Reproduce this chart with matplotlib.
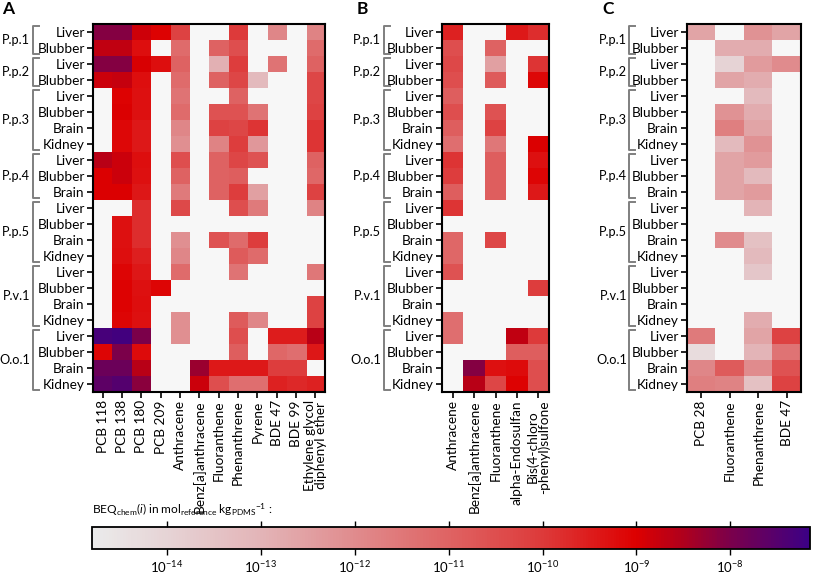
import numpy as np
import matplotlib
matplotlib.use("Agg")
import matplotlib.pyplot as plt
from matplotlib import transforms
from matplotlib.colors import LinearSegmentedColormap, LogNorm

plt.rcParams['font.family'] = ['Lato', 'DejaVu Sans']
plt.rcParams['mathtext.fontset'] = 'custom'
plt.rcParams['mathtext.rm'] = 'Lato'
plt.rcParams['mathtext.it'] = 'Lato:italic'

N = None

# rows (top -> bottom)
tissues = ['Liver', 'Blubber', 'Liver', 'Blubber', 'Liver', 'Blubber', 'Brain', 'Kidney',
           'Liver', 'Blubber', 'Brain', 'Liver', 'Blubber', 'Brain', 'Kidney',
           'Liver', 'Blubber', 'Brain', 'Kidney', 'Liver', 'Blubber', 'Brain', 'Kidney']
groups = [('P.p.1', 0, 1), ('P.p.2', 2, 3), ('P.p.3', 4, 7), ('P.p.4', 8, 10),
          ('P.p.5', 11, 14), ('P.v.1', 15, 18), ('O.o.1', 19, 22)]

# values are log10 of BEQchem(i); one list per chemical, 23 rows each (None = not detected)
chem_a = ['PCB 118', 'PCB 138', 'PCB 180', 'PCB 209', 'Anthracene', 'Benz[a]anthracene',
          'Fluoranthene', 'Phenanthrene', 'Pyrene', 'BDE 47', 'BDE 99',
          'Ethylene glycol\ndiphenyl ether']
beq_a = [
    [-8.1, -8.7, -8.1, -8.8, N, N, N, N, -8.6, -9.0, -9.0, N, N, N, N, N, N, N, N, -7.3, -9.1, -7.8, -7.6],
    [-8.1, -8.7, -8.1, -8.75, -9.05, -9.0, -9.15, -9.15, -8.8, -8.8, -9.0, N, -9.3, -9.3, -9.25, -9.1, -9.05, -9.05, -9.1, -7.25, -8.0, -7.8, -7.5],
    [-8.85, -9.25, -8.95, -9.25, -9.3, -9.3, -9.45, -9.45, -9.25, -9.3, -9.4, -9.8, -9.8, -9.8, -9.55, -9.4, -9.3, -9.25, -9.3, -8.0, -9.2, -8.6, -8.15],
    [-9.05, N, -9.25, N, N, N, N, N, N, N, N, N, N, N, N, N, -9.1, N, N, N, N, N, N],
    [-10.2, -11.2, -11.0, -11.2, -11.4, -11.2, -11.9, -12.1, -10.5, -11.0, -11.6, -10.4, N, -12.1, -11.9, -11.2, N, N, -12.1, -12.1, N, N, N],
    [N, N, N, N, N, N, N, N, N, N, N, N, N, N, N, N, N, N, N, N, N, -8.3, -8.8],
    [N, -11.0, -12.9, -11.0, N, -10.6, -10.2, -11.8, -11.0, -11.0, -11.0, N, N, -10.6, N, N, N, N, N, N, N, -9.45, -10.5],
    [-10.0, -10.5, -10.1, -10.3, -11.0, -10.6, -10.3, -10.1, -10.3, -10.9, -10.1, -10.5, N, -11.2, -10.8, -11.4, N, N, -10.8, -10.5, -10.9, -9.45, -11.3],
    [N, N, N, -13.2, N, -11.4, -9.9, -12.3, -10.6, N, -12.5, -11.6, N, -10.1, -11.2, N, N, N, -11.9, N, N, -9.45, -11.3],
    [-11.9, N, -11.4, N, N, N, N, N, N, N, N, N, N, N, N, N, N, N, N, -9.5, -11.1, -10.1, -9.6],
    [N, N, N, N, N, N, N, N, N, N, N, N, N, N, N, N, N, N, N, -9.5, -11.3, -10.1, -9.7],
    [-11.8, -11.2, -11.0, -10.3, -10.3, -10.2, -9.9, -9.9, -11.0, -11.1, -10.2, -11.8, N, N, N, -11.5, N, -10.2, -10.2, -8.6, -9.4, N, -9.6],
]

chem_b = ['Anthracene', 'Benz[a]anthracene', 'Fluoranthene', 'alpha-Endosulfan',
          'Bis(4-chloro\n-phenyl)sulfone']
beq_b = [
    [-9.6, -10.5, -10.35, -10.5, -10.9, -10.5, -10.9, -11.3, -9.9, -10.1, -10.9, -9.9, N, -11.1, -11.1, -10.6, N, N, -11.3, -11.3, N, N, N],
    [N, N, N, N, N, N, N, N, N, N, N, N, N, N, N, N, N, N, N, N, N, -8.1, -8.6],
    [N, -11.0, -12.5, -10.8, N, -10.6, -10.2, -11.5, -10.9, -10.9, -10.9, N, N, -10.3, N, N, N, N, N, N, N, -9.3, -10.3],
    [-9.45, N, N, N, N, N, N, N, N, N, N, N, N, N, N, N, N, N, N, -8.7, -10.9, -9.2, -9.05],
    [-9.8, N, -9.9, -9.15, N, N, N, -9.0, -9.3, -9.1, -9.45, N, N, N, N, N, -10.1, N, N, -10.0, -10.9, -10.5, -10.5],
]

chem_c = ['PCB 28', 'Fluoranthene', 'Phenanthrene', 'BDE 47']
beq_c = [
    [-12.6, N, N, N, N, N, N, N, N, N, N, N, N, N, N, N, N, N, N, -11.6, -14.3, -11.9, -11.7],
    [N, -12.8, -14.0, -12.6, N, -12.2, -11.7, -13.2, -12.6, -12.6, -12.6, N, N, -12.0, N, N, N, N, N, N, N, -10.8, -11.8],
    [-12.2, -12.8, -12.4, -12.8, -13.2, -12.8, -12.6, -12.2, -12.4, -13.2, -12.4, -13.0, N, -13.4, -13.2, -13.6, N, N, -12.8, -12.6, -13.0, -12.0, -13.4],
    [-12.6, N, -12.0, N, N, N, N, N, N, N, N, N, N, N, N, N, N, N, N, -10.2, -11.4, -10.6, -10.2],
]

cbar_ticks = [-14, -13, -12, -11, -10, -9, -8]
vmin, vmax = -14.8, -7.15

# colour map: light grey -> pink -> red -> crimson -> indigo
stops = [(-14.8, '#ebebeb'), (-14.0, '#e6d3d5'), (-13.0, '#e3b4b7'), (-12.0, '#e08b8d'),
         (-11.0, '#df6363'), (-10.0, '#dd3a3a'), (-9.0, '#dd0000'), (-8.5, '#b0001c'),
         (-8.0, '#7c004a'), (-7.15, '#3c0085')]
cmap = LinearSegmentedColormap.from_list(
    'beq', [((v - vmin) / (vmax - vmin), c) for v, c in stops])
cmap.set_bad('#f7f7f7')
norm = LogNorm(vmin=10 ** vmin, vmax=10 ** vmax)

W, H = 813, 575
fig = plt.figure(figsize=(W / 100, H / 100), dpi=100)


def px_axes(x0, y0, x1, y1):
    return fig.add_axes([x0 / W, 1 - y1 / H, (x1 - x0) / W, (y1 - y0) / H])


def panel(x0, x1, chems, data, letter, letter_x, brk_x, grp_x):
    ax = px_axes(x0, 24, x1, 392)
    arr = 10 ** np.array(data, dtype=float).T
    im = ax.imshow(arr, cmap=cmap, norm=norm, aspect='auto', interpolation='nearest')
    ax.set_xticks(range(len(chems)))
    ax.set_xticklabels(chems, rotation=90, fontsize=9.8, linespacing=0.88)
    ax.set_yticks(range(len(tissues)))
    ax.set_yticklabels(tissues, fontsize=9.8)
    ax.tick_params(length=4.5, width=1.2, pad=1.5, color='black')
    for sp in ax.spines.values():
        sp.set_linewidth(1.5)
    trans = transforms.blended_transform_factory(fig.transFigure, ax.transData)
    for name, r0, r1 in groups:
        top, bot = r0 - 0.5 + 0.1, r1 + 0.5 - 0.1
        xs = [(brk_x + 6) / W, brk_x / W, brk_x / W, (brk_x + 6) / W]
        ax.plot(xs, [top, top, bot, bot], color='#7f7f7f', lw=1.4,
                transform=trans, clip_on=False)
        ax.text(grp_x / W, (r0 + r1) / 2, name, transform=trans, ha='right',
                va='center', fontsize=9.2)
    fig.text(letter_x / W, 1 - 9 / H, letter, fontsize=12.5, fontweight='bold',
             va='center', ha='left')
    return im


im = panel(93, 325, chem_a, beq_a, 'A', 2, 33, 30)
panel(442, 549, chem_b, beq_b, 'B', 357, 384, 381)
panel(687, 801, chem_c, beq_c, 'C', 602, 629, 627)

cax = px_axes(92, 527, 810, 549)
cb = fig.colorbar(im, cax=cax, orientation='horizontal')
cb.set_ticks([10.0 ** t for t in cbar_ticks])
cax.xaxis.set_minor_locator(plt.NullLocator())
cax.tick_params(axis='x', which='major', top=True, bottom=True, direction='out',
                length=4, width=1.0, labelsize=9.5, pad=3)
cb.outline.set_linewidth(1.3)
fig.text(92 / W, 1 - 510 / H,
         r'BEQ$_{\mathrm{chem}}$($\it{i}$) in mol$_{\mathrm{reference}}$ kg$_{\mathrm{PDMS}}$$^{\mathrm{-1}}$ :',
         fontsize=8.6, va='center', ha='left')

fig.savefig('out.png', dpi=100)
